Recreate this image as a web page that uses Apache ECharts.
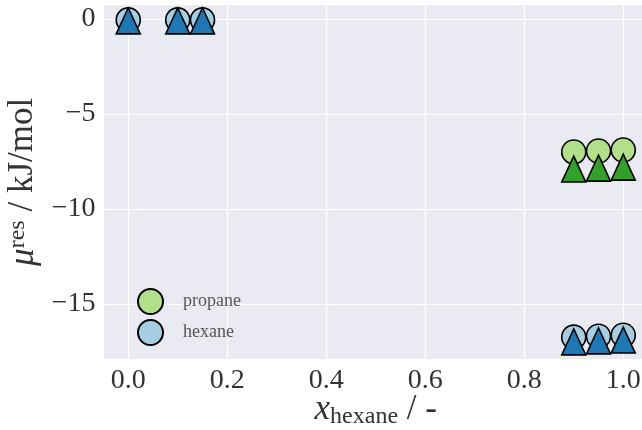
<!DOCTYPE html>
<html>
<head>
<meta charset="utf-8">
<script src="https://cdn.jsdelivr.net/npm/echarts@6/dist/echarts.min.js"></script>
<style>
  html, body { margin: 0; padding: 0; background: #ffffff; }
  #chart { width: 642px; height: 430px; }
</style>
</head>
<body>
<div id="chart"></div>
<script>
// Mole fraction of hexane in the propane/hexane mixture
const xHexane = [0.0, 0.1, 0.15, 0.9, 0.95, 1.0];

// Residual chemical potential, kJ/mol (circles and triangles per component)
const hexaneCircle = [-0.05, -0.05, -0.05, -16.75, -16.7, -16.65];
const hexaneTriangle = [-0.1, -0.1, -0.1, -17.0, -16.95, -16.9];
const propaneCircle = [null, null, null, -7.0, -6.95, -6.9];
const propaneTriangle = [null, null, null, -7.9, -7.85, -7.8];

const colors = {
  propaneLight: '#b2df8a',
  propaneDark: '#33a02c',
  hexaneLight: '#a6cee3',
  hexaneDark: '#1f78b4'
};

function pairs(xs, ys) {
  const out = [];
  xs.forEach((x, i) => { if (ys[i] !== null) out.push([x, ys[i]]); });
  return out;
}

const serif = '"Liberation Serif", "DejaVu Serif", serif';
const minus = v => (v < 0 ? '\u2212' + Math.abs(v) : String(v));

function scatter(name, ys, symbol, color, size, z) {
  return {
    name: name,
    type: 'scatter',
    data: pairs(xHexane, ys),
    symbol: symbol,
    symbolSize: size,
    z: z,
    itemStyle: { color: color, borderColor: '#000000', borderWidth: 1.6, opacity: 1 },
    emphasis: { disabled: true }
  };
}

const chart = echarts.init(document.getElementById('chart'), null, { renderer: 'canvas' });
chart.setOption({
  animation: false,
  backgroundColor: '#ffffff',
  grid: {
    left: 103.5, top: 4.7, width: 544.5, height: 354.3,
    containLabel: false, outerBoundsMode: 'none',
    show: true, backgroundColor: '#eaeaf2', borderWidth: 0
  },
  legend: {
    left: 132, top: 283, orient: 'vertical',
    itemWidth: 25, itemHeight: 25, itemGap: 4,
    data: [
      { name: 'propane', icon: 'circle' },
      { name: 'hexane', icon: 'circle' }
    ],
    textStyle: { fontFamily: serif, fontSize: 18, color: '#555555', padding: [0, 0, 0, 15] },
    selectedMode: false
  },
  xAxis: {
    type: 'value', min: -0.05, max: 1.05, splitNumber: 5,
    axisLine: { show: false }, axisTick: { show: false },
    splitLine: { show: true, lineStyle: { color: '#ffffff', width: 1.2 } },
    axisLabel: {
      showMinLabel: false, showMaxLabel: false, margin: 8,
      fontFamily: serif, fontSize: 28, color: '#333333',
      formatter: v => v.toFixed(1)
    },
    name: '{i|x}{s|hexane}{n| / -}',
    nameLocation: 'middle', nameGap: 32, nameMoveOverlap: false,
    nameTextStyle: {
      rich: {
        i: { fontFamily: serif, fontSize: 35, fontStyle: 'italic', color: '#333333' },
        s: { fontFamily: serif, fontSize: 24, color: '#333333', verticalAlign: 'bottom', padding: [14, 0, 0, 0] },
        n: { fontFamily: serif, fontSize: 35, color: '#333333' }
      }
    }
  },
  yAxis: {
    type: 'value', min: -17.9, max: 0.75, splitNumber: 4,
    axisLine: { show: false }, axisTick: { show: false },
    splitLine: { show: true, lineStyle: { color: '#ffffff', width: 1.2 } },
    axisLabel: {
      showMinLabel: false, showMaxLabel: false, margin: 8,
      fontFamily: serif, fontSize: 28, color: '#333333',
      formatter: minus
    },
    name: '{i|\u03bc}{s|res}{n| / kJ/mol}',
    nameLocation: 'middle', nameGap: 50, nameRotate: 90,
    nameTextStyle: {
      rich: {
        i: { fontFamily: serif, fontSize: 35, fontStyle: 'italic', color: '#333333' },
        s: { fontFamily: serif, fontSize: 24, color: '#333333', verticalAlign: 'top', padding: [0, 0, 12, 0] },
        n: { fontFamily: serif, fontSize: 35, color: '#333333' }
      }
    }
  },
  series: [
    scatter('propane', propaneCircle, 'circle', colors.propaneLight, 24, 2),
    scatter('hexane', hexaneCircle, 'circle', colors.hexaneLight, 24, 2),
    scatter('propane triangles', propaneTriangle, 'triangle', colors.propaneDark, [24, 26], 3),
    scatter('hexane triangles', hexaneTriangle, 'triangle', colors.hexaneDark, [24, 26], 3)
  ]
});
</script>
</body>
</html>
